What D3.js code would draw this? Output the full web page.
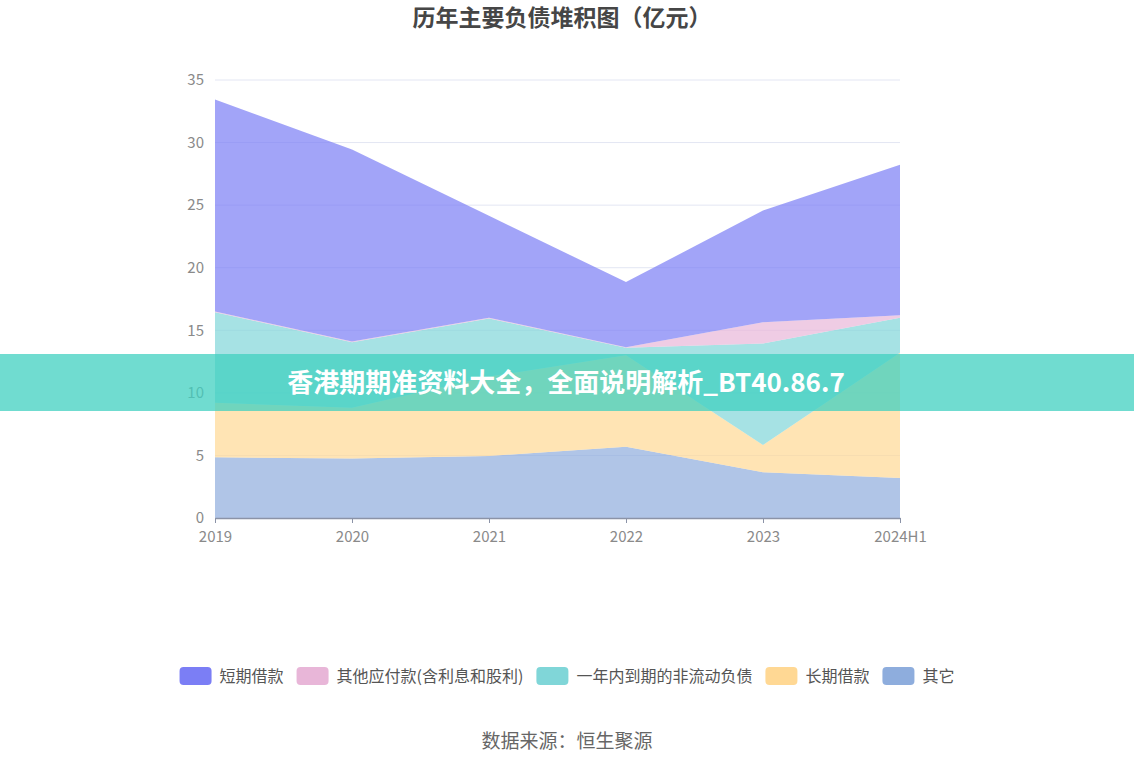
<!DOCTYPE html>
<html>
<head>
<meta charset="utf-8">
<script src="https://cdn.jsdelivr.net/npm/d3@7"></script>
<style>
  body { margin: 0; background: #fff; }
  svg { display: block; font-family: "Noto Sans CJK SC", "Noto Sans", sans-serif; }
</style>
</head>
<body>
<svg id="chart" width="1134" height="766"></svg>
<script>
// data (亿元)
const years = ['2019', '2020', '2021', '2022', '2023', '2024H1']
const qita = [4.85, 4.75, 4.95, 5.70, 3.65, 3.20]            // 其它
const changqi = [4.35, 4.05, 6.35, 7.30, 2.19, 10.00]        // 长期借款
const yinian = [7.25, 5.25, 4.65, 0.60, 8.11, 2.80]          // 一年内到期的非流动负债
const qitaYingfu = [0.05, 0.05, 0.05, 0.05, 1.70, 0.20]      // 其他应付款(含利息和股利)
const duanqi = [16.95, 15.35, 8.15, 5.20, 8.92, 12.03]       // 短期借款
const yTicks = [0, 5, 10, 15, 20, 25, 30, 35]

// legend order (top of stack first), stack order is reversed
const seriesNames = ['短期借款', '其他应付款(含利息和股利)', '一年内到期的非流动负债', '长期借款', '其它']
const seriesValues = [duanqi, qitaYingfu, yinian, changqi, qita]
const colors = ['#7b7ef5', '#e8b6d8', '#80d6d8', '#ffd894', '#8eaddd']

const svg = d3.select('#chart')
const margin = {left: 215, right: 900, top: 80, bottom: 518}

const x = d3.scalePoint().domain(years).range([margin.left, margin.right])
const y = d3.scaleLinear().domain([0, 35]).range([margin.bottom, margin.top])

const rows = years.map((yr, i) => {
    const r = {year: yr}
    seriesNames.forEach((n, k) => r[n] = seriesValues[k][i])
    return r
})
const stack = d3.stack().keys(seriesNames.slice().reverse())
const layers = stack(rows)

// grid lines
svg.append('g')
    .selectAll('line')
    .data(yTicks.filter(d => d > 0))
    .join('line')
    .attr('x1', margin.left)
    .attr('x2', margin.right)
    .attr('y1', d => y(d))
    .attr('y2', d => y(d))
    .style('stroke', '#e3e6f3')
    .style('stroke-width', 1)

// areas
const area = d3.area()
    .x(d => x(d.data.year))
    .y0(d => y(d[0]))
    .y1(d => y(d[1]))

svg.append('g')
    .selectAll('path')
    .data(layers)
    .join('path')
    .attr('d', area)
    .style('fill', d => colors[seriesNames.indexOf(d.key)])
    .style('fill-opacity', 0.7)

// y axis labels
svg.append('g')
    .selectAll('text')
    .data(yTicks)
    .join('text')
    .attr('x', margin.left - 11)
    .attr('y', d => y(d))
    .attr('dy', '0.35em')
    .style('text-anchor', 'end')
    .style('font-size', '15px')
    .style('fill', '#8a8a8a')
    .text(d => d)

// x axis
const xAxis = svg.append('g')
    .attr('transform', `translate(0, ${margin.bottom})`)
    .call(d3.axisBottom(x).tickSize(5).tickPadding(8).tickSizeOuter(0))
xAxis.select('.domain').style('stroke', '#8b93a7').style('stroke-width', 1.5)
xAxis.selectAll('.tick line').style('stroke', '#8b93a7')
xAxis.selectAll('.tick text')
    .style('font-size', '15px')
    .style('fill', '#8a8a8a')
    .style('font-family', '"Noto Sans CJK SC", "Noto Sans", sans-serif')

// title
svg.append('text')
    .attr('x', 562)
    .attr('y', 18)
    .attr('dy', '0.35em')
    .style('text-anchor', 'middle')
    .style('font-size', '23px')
    .style('font-weight', 'bold')
    .style('fill', '#464646')
    .text('历年主要负债堆积图（亿元）')

// legend
const legend = svg.append('g')
const items = legend.selectAll('g')
    .data(seriesNames)
    .join('g')
items.append('rect')
    .attr('width', 32)
    .attr('height', 18)
    .attr('rx', 4)
    .style('fill', (d, i) => colors[i])
items.append('text')
    .attr('x', 40)
    .attr('y', 9)
    .attr('dy', '0.35em')
    .style('font-size', '16px')
    .style('fill', '#555')
    .text(d => d)
let pos = 0
items.each(function () {
    const w = d3.select(this).select('text').node().getComputedTextLength()
    d3.select(this).attr('transform', `translate(${pos}, 0)`)
    pos += 40 + w + 13
})
pos -= 13
legend.attr('transform', `translate(${567 - pos / 2}, 667)`)

// source
svg.append('text')
    .attr('x', 567)
    .attr('y', 741)
    .attr('dy', '0.35em')
    .style('text-anchor', 'middle')
    .style('font-size', '19px')
    .style('fill', '#666')
    .text('数据来源：恒生聚源')

// banner across the middle
svg.append('rect')
    .attr('x', 0)
    .attr('y', 354)
    .attr('width', 1134)
    .attr('height', 57)
    .style('fill', '#40d0c0')
    .style('fill-opacity', 0.75)
svg.append('text')
    .attr('x', 566)
    .attr('y', 383)
    .attr('dy', '0.35em')
    .style('text-anchor', 'middle')
    .style('font-size', '26px')
    .style('font-weight', 'bold')
    .style('fill', '#fff')
    .text('香港期期准资料大全，全面说明解析_BT40.86.7')
</script>
</body>
</html>
